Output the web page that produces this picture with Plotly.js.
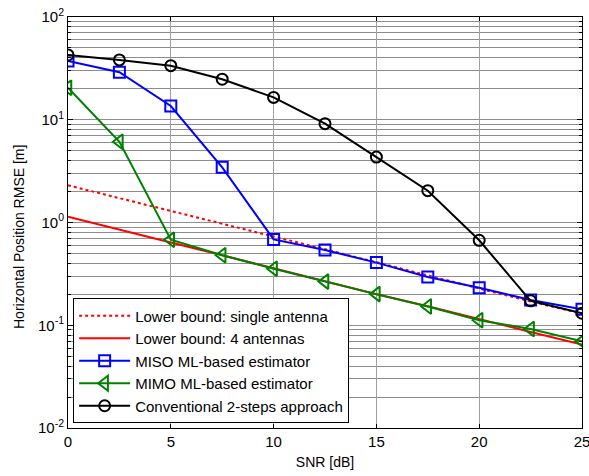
<!DOCTYPE html>
<html>
<head>
<meta charset="utf-8">
<script src="https://cdn.plot.ly/plotly-3.0.1.min.js"></script>
<style>html,body{margin:0;padding:0;background:#fff;}#chart{width:589px;height:476px;}</style>
</head>
<body>
<div id="chart"></div>
<script>
const snr = [0, 2.5, 5, 7.5, 10, 12.5, 15, 17.5, 20, 22.5, 25];
const lbSingle = [2.30, 1.72, 1.29, 0.97, 0.73, 0.55, 0.41, 0.31, 0.23, 0.17, 0.13];
const lbFour = [1.14, 0.86, 0.64, 0.48, 0.36, 0.27, 0.20, 0.153, 0.114, 0.086, 0.065];
const miso = [37.3, 29.0, 13.6, 3.44, 0.685, 0.540, 0.407, 0.295, 0.232, 0.176, 0.143];
const mimo = [20.5, 6.11, 0.68, 0.48, 0.355, 0.266, 0.201, 0.152, 0.112, 0.092, 0.070];
const conv = [42.7, 38.2, 33.6, 24.8, 16.5, 9.16, 4.33, 2.04, 0.671, 0.173, 0.131];
const names = ['Lower bound: single antenna', 'Lower bound: 4 antennas', 'MISO ML-based estimator', 'MIMO ML-based estimator', 'Conventional 2-steps approach'];
const yTickVals = [0.01, 0.1, 1, 10, 100];
const yTickText = ['10<sup>-2</sup>', '10<sup>-1</sup>', '10<sup>0</sup>', '10<sup>1</sup>', '10<sup>2</sup>'];
const xTickVals = [0, 5, 10, 15, 20, 25];
const xTitle = 'SNR [dB]';
const yTitle = 'Horizontal Position RMSE [m]';

const traces = [
  {x: snr, y: lbSingle, name: names[0], mode: 'lines', line: {color: '#ff0000', width: 2, dash: 'dot'}},
  {x: snr, y: lbFour, name: names[1], mode: 'lines', line: {color: '#ff0000', width: 2}},
  {x: snr, y: miso, name: names[2], mode: 'lines+markers', line: {color: '#0000ff', width: 2},
   marker: {symbol: 'square-open', size: 11, color: '#0000ff', line: {width: 2}}},
  {x: snr, y: mimo, name: names[3], mode: 'lines+markers', line: {color: '#008000', width: 2},
   marker: {symbol: 'triangle-left-open', size: 13, color: '#008000', line: {width: 2}}},
  {x: snr, y: conv, name: names[4], mode: 'lines+markers', line: {color: '#000000', width: 2},
   marker: {symbol: 'circle-open', size: 11, color: '#000000', line: {width: 2}}}
];

const layout = {
  width: 589, height: 476,
  margin: {l: 68, r: 7, t: 17, b: 48},
  paper_bgcolor: '#fff', plot_bgcolor: '#fff',
  font: {family: 'Liberation Sans, Arial, sans-serif', size: 15, color: '#000'},
  showlegend: true,
  legend: {x: 0.01, y: 0.011, xanchor: 'left', yanchor: 'bottom', bgcolor: '#fff',
           bordercolor: '#000', borderwidth: 1, font: {size: 15}, itemwidth: 51, tracegroupgap: 0},
  xaxis: {
    range: [0, 25], tickvals: xTickVals,
    showline: true, linecolor: '#000', linewidth: 1, mirror: 'ticks',
    ticks: 'inside', ticklen: 4, tickcolor: '#000', ticklabeloverflow: 'allow',
    showgrid: true, gridcolor: '#a0a0a0', gridwidth: 1, zeroline: false,
    title: {text: xTitle, font: {size: 14}, standoff: 8},
    tickfont: {size: 15}
  },
  yaxis: {
    type: 'log', range: [-2, 2], tickvals: yTickVals, ticktext: yTickText,
    showline: true, linecolor: '#000', linewidth: 1, mirror: 'ticks',
    ticks: 'inside', ticklen: 5, tickcolor: '#000',
    showgrid: true, gridcolor: '#909090', gridwidth: 1, zeroline: false,
    minor: {dtick: 'D1', ticks: 'inside', ticklen: 3, tickcolor: '#000', showgrid: true, gridcolor: '#8c8c8c', gridwidth: 1},
    tickfont: {size: 15}
  },
  annotations: [{
    text: yTitle, xref: 'paper', yref: 'paper', x: 0, y: 0.4647,
    xanchor: 'center', yanchor: 'middle', xshift: -49, textangle: -90,
    showarrow: false, font: {size: 14}
  }]
};

Plotly.newPlot('chart', traces, layout, {displayModeBar: false, staticPlot: true});
</script>
</body>
</html>
